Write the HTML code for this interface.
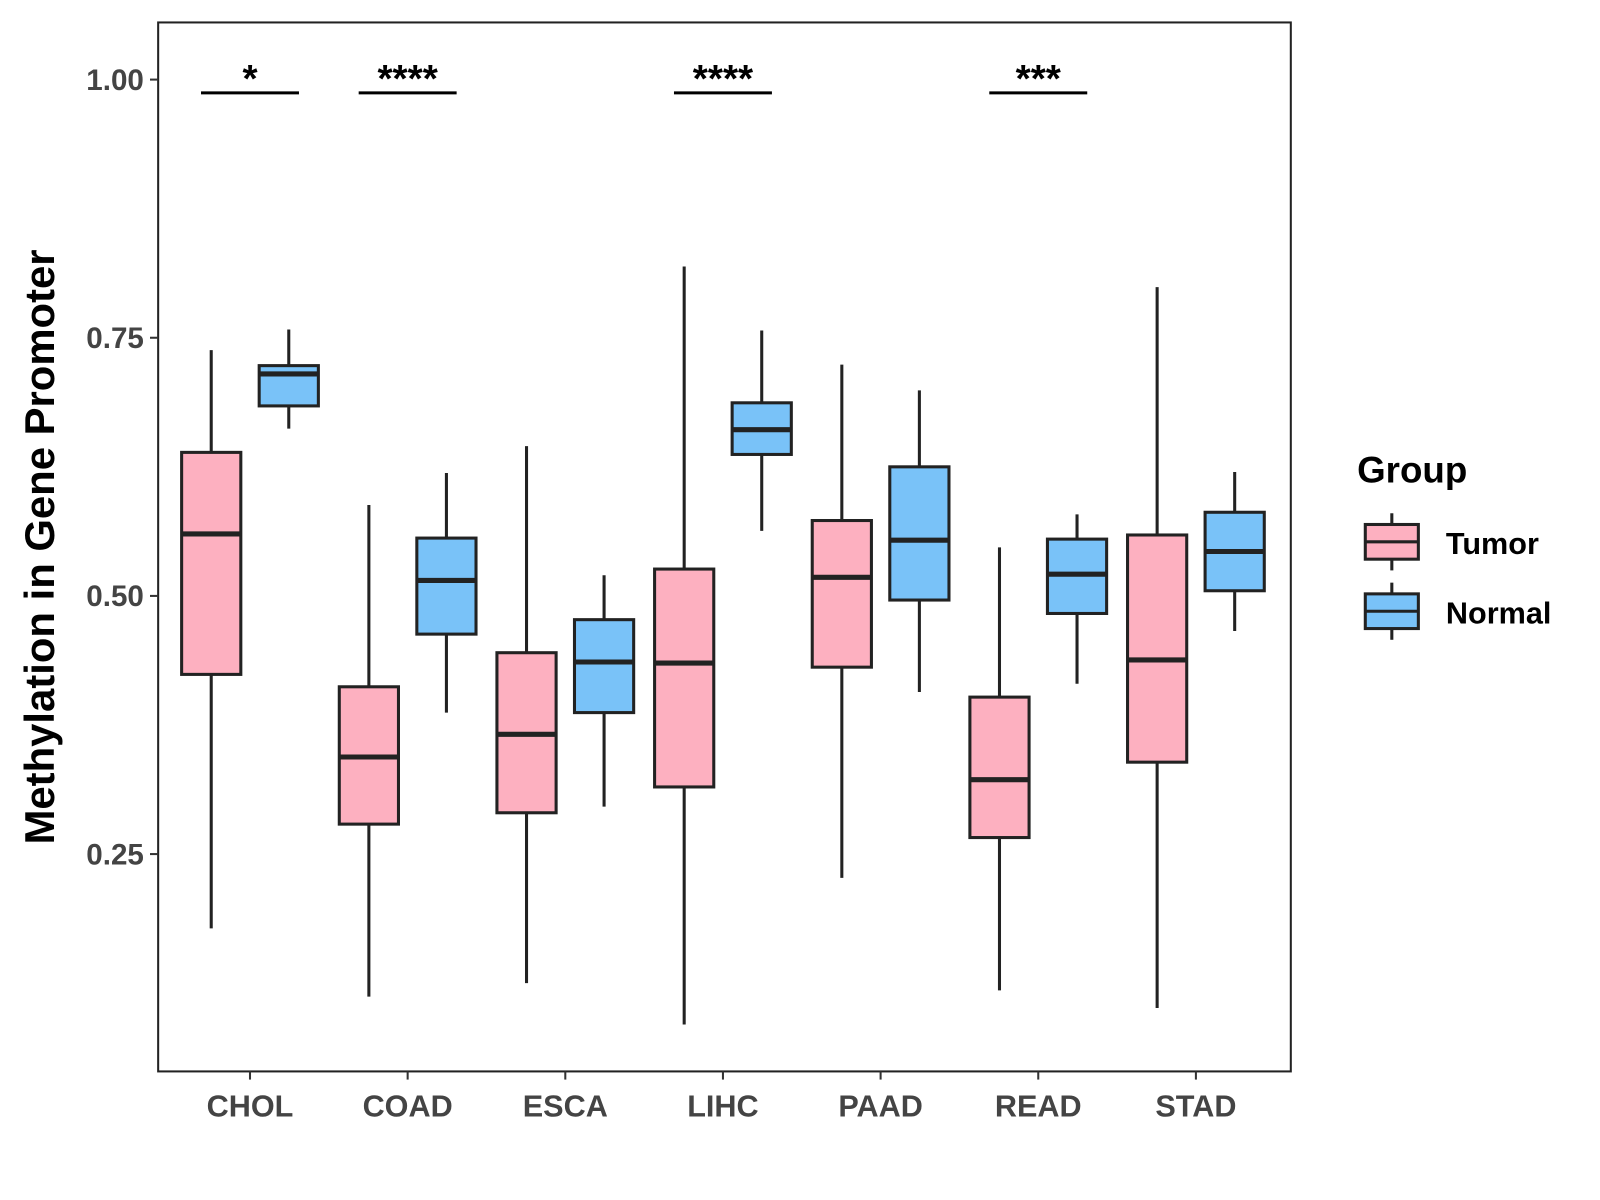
<!DOCTYPE html>
<html><head><meta charset="utf-8"><style>
body{margin:0;background:#fff;}
svg{display:block;font-family:"Liberation Sans",Arial,sans-serif;}
</style></head><body>
<svg id="chart" width="1600" height="1200" viewBox="0 0 1600 1200">
<g transform="scale(1.0204)">
<rect x="155" y="22" width="1110" height="1028" fill="#fff" stroke="#222" stroke-width="2"/>
<g id="marks"></g>
<g id="axes"></g>
<text x="0" y="0" transform="translate(53,536) rotate(-90)" text-anchor="middle" font-size="41" font-weight="bold" fill="#000">Methylation in Gene Promoter</text>
<g>
<text x="1330" y="473" font-size="36" font-weight="bold" fill="#000">Group</text>
<g>
<line x1="1364" y1="503" x2="1364" y2="559" stroke="#222" stroke-width="3"/>
<rect x="1338" y="514" width="52" height="34" fill="#FDB0C0" stroke="#222" stroke-width="3"/>
<line x1="1338" y1="531" x2="1390" y2="531" stroke="#222" stroke-width="3"/>
<text x="1417" y="543" font-size="30" font-weight="bold" fill="#000">Tumor</text>
</g>
<g>
<line x1="1364" y1="571" x2="1364" y2="627" stroke="#222" stroke-width="3"/>
<rect x="1338" y="582" width="52" height="34" fill="#79C2F8" stroke="#222" stroke-width="3"/>
<line x1="1338" y1="599" x2="1390" y2="599" stroke="#222" stroke-width="3"/>
<text x="1417" y="611" font-size="30" font-weight="bold" fill="#000">Normal</text>
</g>
</g>
</g>
</svg>
<script>
const categories=["CHOL","COAD","ESCA","LIHC","PAAD","READ","STAD"];
// [low, q1, median, q3, high]
const tumorStats=[[0.178,0.424,0.560,0.639,0.738],[0.112,0.279,0.344,0.412,0.588],[0.125,0.290,0.366,0.445,0.645],[0.085,0.315,0.435,0.526,0.819],[0.227,0.431,0.518,0.573,0.724],[0.118,0.266,0.322,0.402,0.547],[0.101,0.339,0.438,0.559,0.799]];
const normalStats=[[0.662,0.684,0.715,0.723,0.758],[0.387,0.463,0.515,0.556,0.619],[0.296,0.387,0.436,0.477,0.520],[0.563,0.637,0.661,0.687,0.757],[0.407,0.496,0.554,0.625,0.699],[0.415,0.483,0.521,0.555,0.579],[0.466,0.505,0.543,0.581,0.620]];
const significance=["*","****","","****","","***",""];
const yTicks=[0.25,0.50,0.75,1.00];
const yTickLabels=["0.25","0.50","0.75","1.00"];

const NS="http://www.w3.org/2000/svg";
function y(v){return 78+(1-v)*1012;}
function x(i){return 245+i*154.5;}
const marks=document.getElementById('marks'), axes=document.getElementById('axes');
function mk(tag,attrs,parent){const e=document.createElementNS(NS,tag);for(const k in attrs)e.setAttribute(k,attrs[k]);parent.appendChild(e);return e;}
function box(cx,s,fill,name,i){
  const g=mk('g',{},marks);
  
  
  const w=58;
  mk('line',{x1:cx,x2:cx,y1:y(s[0]),y2:y(s[4]),stroke:'#222','stroke-width':3},g);
  mk('rect',{x:cx-w/2,y:y(s[3]),width:w,height:y(s[1])-y(s[3]),fill:fill,stroke:'#222','stroke-width':3},g);
  mk('line',{x1:cx-w/2,x2:cx+w/2,y1:y(s[2]),y2:y(s[2]),stroke:'#222','stroke-width':5},g);
}
categories.forEach((c,i)=>{
  box(x(i)-38,tumorStats[i],'#FDB0C0','box-tumor',i);
  box(x(i)+38,normalStats[i],'#79C2F8','box-normal',i);
  if(significance[i]){
    const g=mk('g',{},marks);
    
    
    mk('line',{x1:x(i)-48,x2:x(i)+48,y1:91,y2:91,stroke:'#000','stroke-width':3},g);
    const t=mk('text',{x:x(i),y:90,'text-anchor':'middle','font-size':38,'font-weight':'bold',fill:'#000'},g);
    t.textContent=significance[i];
  }
  mk('line',{x1:x(i),x2:x(i),y1:1050,y2:1058,stroke:'#333','stroke-width':2},axes);
  const t=mk('text',{x:x(i),y:1094,'text-anchor':'middle','font-size':30,'font-weight':'bold',fill:'#444'},axes);
  
  
  t.textContent=c;
});
yTicks.forEach((v,i)=>{
  mk('line',{x1:147,x2:155,y1:y(v),y2:y(v),stroke:'#333','stroke-width':2},axes);
  const t=mk('text',{x:141,y:y(v)+10,'text-anchor':'end','font-size':29,'font-weight':'bold',fill:'#444'},axes);
  
  
  t.textContent=yTickLabels[i];
});
</script>
</body></html>
